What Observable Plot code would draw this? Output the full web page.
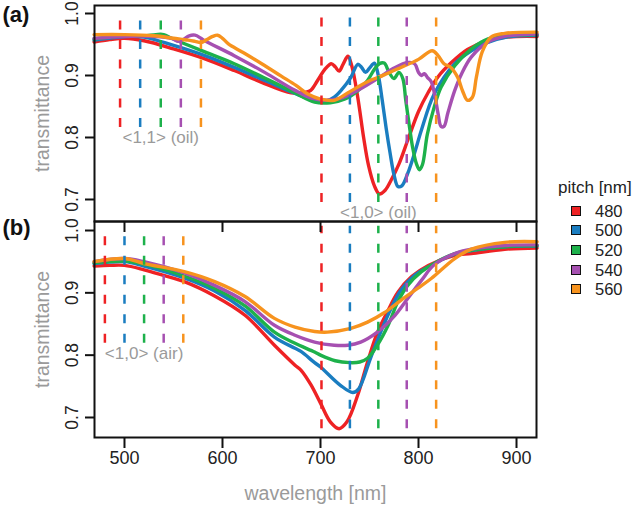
<!DOCTYPE html>
<html><head><meta charset="utf-8">
<script src="https://cdn.jsdelivr.net/npm/d3@7"></script>
<script src="https://cdn.jsdelivr.net/npm/@observablehq/plot@0.6"></script>
<style>
body{margin:0;background:#fff;}
#wrap{position:relative;width:632px;height:505px;font-family:"Liberation Sans",Arial,Helvetica,sans-serif;overflow:hidden;}
#wrap svg{position:absolute;left:0;}
.lg{position:absolute;color:#222;font-size:16.5px;line-height:1;}
.sw{position:absolute;width:8px;height:8px;border:1.5px solid #111;}
</style></head><body><div id="wrap"></div>
<script>
// ---- data ----
const pitches = [480, 500, 520, 540, 560];
const colors = ["#ee2224", "#1a7dc0", "#1db14b", "#a650b1", "#f7931e"];
const xTicks = [500, 600, 700, 800, 900];
const yTicks = [0.7, 0.8, 0.9, 1.0];
const modeOil11 = [495.5, 516, 537, 557.5, 578];
const modeOil10 = [701, 730, 759, 788, 818];
const modeAir10 = [480, 500, 520, 540, 560];
const labelOil11 = "<1,1> (oil)";
const labelOil10 = "<1,0> (oil)";
const labelAir10 = "<1,0> (air)";

// panel (a): in oil, [wavelength nm, transmittance]
const a480 = [[469,0.954],[485,0.958],[500,0.960],[520,0.956],[550,0.943],[580,0.928],[612,0.908],[643,0.887],[670,0.872],[685,0.873],[690,0.876],[697,0.892],[705,0.911],[711,0.919],[715,0.914],[719,0.907],[723,0.918],[728,0.931],[732,0.915],[738,0.865],[744,0.800],[749,0.755],[755,0.722],[760,0.709],[766,0.715],[772,0.731],[780,0.757],[790,0.800],[800,0.842],[810,0.873],[820,0.898],[833,0.920],[850,0.942],[870,0.956],[890,0.962],[921,0.963]];
const a500 = [[469,0.957],[500,0.963],[520,0.962],[551,0.948],[582,0.932],[612,0.913],[643,0.892],[674,0.871],[694,0.860],[706,0.859],[714,0.865],[721,0.876],[731,0.897],[738,0.918],[742,0.913],[746,0.905],[750,0.912],[755,0.920],[759,0.900],[763,0.860],[767,0.815],[771,0.775],[775,0.740],[779,0.721],[783,0.722],[789,0.742],[796,0.775],[803,0.812],[816,0.870],[837,0.919],[854,0.940],[870,0.953],[890,0.962],[921,0.965]];
const a520 = [[469,0.959],[500,0.964],[520,0.964],[532,0.966],[540,0.966],[548,0.960],[560,0.952],[582,0.938],[612,0.919],[643,0.896],[674,0.872],[694,0.857],[710,0.856],[725,0.862],[740,0.878],[748,0.892],[755,0.910],[760,0.919],[765,0.920],[770,0.905],[775,0.895],[780,0.905],[784,0.895],[787,0.860],[791,0.815],[794,0.784],[798,0.757],[801,0.748],[804,0.756],[809,0.805],[816,0.849],[823,0.881],[837,0.916],[854,0.943],[871,0.959],[890,0.964],[921,0.966]];
const a540 = [[469,0.960],[500,0.963],[530,0.963],[548,0.960],[555,0.955],[560,0.958],[566,0.964],[572,0.965],[578,0.960],[582,0.956],[612,0.932],[643,0.905],[674,0.876],[690,0.864],[705,0.860],[720,0.863],[740,0.878],[760,0.897],[775,0.912],[789,0.921],[796,0.919],[800,0.905],[803,0.900],[806,0.903],[809,0.897],[813,0.890],[817,0.865],[820,0.838],[823,0.818],[826,0.818],[830,0.840],[837,0.876],[844,0.903],[854,0.930],[871,0.954],[888,0.963],[921,0.967]];
const a560 = [[469,0.966],[500,0.966],[530,0.964],[550,0.960],[565,0.957],[572,0.955],[578,0.953],[584,0.958],[590,0.963],[595,0.965],[600,0.960],[606,0.951],[620,0.938],[640,0.919],[660,0.899],[675,0.884],[687,0.870],[700,0.862],[714,0.860],[730,0.874],[748,0.890],[765,0.901],[782,0.913],[800,0.926],[814,0.940],[820,0.932],[826,0.919],[833,0.913],[840,0.897],[845,0.875],[850,0.860],[855,0.865],[859,0.897],[865,0.938],[874,0.962],[888,0.968],[921,0.970]];

// panel (b): in air
const b480 = [[469,0.943],[485,0.944],[500,0.944],[520,0.937],[540,0.928],[561,0.918],[592,0.895],[623,0.864],[653,0.816],[674,0.784],[680,0.776],[690,0.753],[700,0.723],[710,0.693],[719,0.682],[727,0.693],[738,0.736],[748,0.789],[758,0.836],[769,0.872],[779,0.901],[793,0.926],[810,0.944],[837,0.960],[854,0.963],[888,0.970],[921,0.972]];
const b500 = [[469,0.947],[500,0.950],[520,0.943],[561,0.924],[592,0.903],[623,0.872],[653,0.829],[674,0.811],[680,0.806],[694,0.788],[700,0.781],[720,0.752],[733,0.740],[739,0.746],[751,0.795],[763,0.843],[772,0.875],[782,0.904],[796,0.928],[813,0.944],[837,0.962],[888,0.974],[921,0.975]];
const b520 = [[469,0.948],[500,0.951],[520,0.946],[561,0.927],[592,0.907],[623,0.879],[653,0.837],[674,0.819],[694,0.805],[700,0.800],[715,0.791],[730,0.788],[740,0.789],[748,0.795],[758,0.816],[769,0.848],[779,0.886],[789,0.912],[803,0.934],[816,0.947],[837,0.963],[888,0.974],[921,0.976]];
const b540 = [[469,0.950],[500,0.955],[520,0.950],[561,0.932],[592,0.912],[623,0.886],[653,0.848],[674,0.832],[694,0.821],[714,0.816],[728,0.816],[741,0.821],[758,0.837],[776,0.864],[789,0.891],[803,0.920],[816,0.945],[837,0.963],[854,0.970],[888,0.976],[921,0.977]];
const b560 = [[469,0.950],[500,0.955],[520,0.947],[561,0.934],[592,0.918],[623,0.894],[653,0.859],[674,0.845],[694,0.838],[707,0.837],[731,0.843],[748,0.853],[765,0.868],[782,0.888],[799,0.907],[813,0.923],[837,0.955],[854,0.970],[888,0.981],[921,0.982]];

// ---- build tables ----
const toRows = (series) => series.flatMap((s, i) => s.map(([wl, t]) => ({pitch: pitches[i], wl, t})));
const rowsA = toRows([a480, a500, a520, a540, a560]);
const rowsB = toRows([b480, b500, b520, b540, b560]);
const modes = (arr) => arr.map((wl, i) => ({pitch: pitches[i], wl}));

const font = '"Liberation Sans", Arial, Helvetica, sans-serif';
const colorScale = {domain: pitches, range: colors};
const xDomain = [469.4, 920.4];
const dash = "9,10.5";

function common(yDomain) {
  return {
    width: 632,
    marginLeft: 94,
    marginRight: 96,
    x: {domain: xDomain},
    y: {domain: yDomain},
    color: colorScale,
    style: {fontFamily: font, background: "transparent", overflow: "visible"}
  };
}

const lineOpts = {x: "wl", y: "t", z: "pitch", stroke: "pitch", strokeWidth: 3.4, curve: "catmull-rom", strokeLinejoin: "round"};
const yTickLabels = (dx) => Plot.text(yTicks, {y: d => d, text: d => d.toFixed(1), frameAnchor: "left", textAnchor: "middle", lineAnchor: "middle", rotate: -90, dx, fontSize: 17.5, fill: "#222"});
const yTitle = Plot.text(["transmittance"], {frameAnchor: "left", textAnchor: "middle", lineAnchor: "middle", rotate: -90, dx: -52, fontSize: 19.5, fill: "#9a9a9a"});

// panel (a)
const plotA = Plot.plot({
  ...common([0.6645, 1.0129]),
  height: 232,
  marginTop: 5,
  marginBottom: 11,
  marks: [
    Plot.line(rowsA, lineOpts),
    Plot.ruleX(modes(modeOil11), {x: "wl", y1: 0.816, y2: 0.989, stroke: "pitch", strokeWidth: 2.5, strokeDasharray: dash}),
    Plot.ruleX(modes(modeOil10), {x: "wl", y1: 0.695, y2: 0.998, stroke: "pitch", strokeWidth: 2.5, strokeDasharray: dash}),
    Plot.text([labelOil11], {x: modeOil11[2], y: 0.800, fontSize: 17, fill: "#9a9a9a"}),
    Plot.text([labelOil10], {x: modeOil10[2], y: 0.679, fontSize: 17, fill: "#9a9a9a"}),
    Plot.frame({stroke: "#111", strokeWidth: 2}),
    Plot.axisY({ticks: yTicks, tickSize: 9, tickFormat: () => "", strokeWidth: 2, stroke: "#111", label: null}),
    Plot.axisX({ticks: xTicks, tickSize: 11, tickFormat: () => "", strokeWidth: 2, stroke: "#111", label: null}),
    yTickLabels(-22),
    yTitle,
    Plot.text(["(a)"], {frameAnchor: "top-left", textAnchor: "start", lineAnchor: "middle", dx: -92, dy: 9, fontSize: 22, fontWeight: "bold", fill: "#111"})
  ]
});

// panel (b)
const plotB = Plot.plot({
  ...common([0.6679, 1.01445]),
  height: 294,
  marginTop: 10,
  marginBottom: 68,
  marks: [
    Plot.line(rowsB, lineOpts),
    Plot.ruleX(modes(modeAir10), {x: "wl", y1: 0.819, y2: 0.9925, stroke: "pitch", strokeWidth: 2.5, strokeDasharray: dash}),
    Plot.ruleX(modes(modeOil10), {x: "wl", y1: 0.682, y2: 1.007, stroke: "pitch", strokeWidth: 2.5, strokeDasharray: dash}),
    Plot.text([labelAir10], {x: modeAir10[2], y: 0.8026, fontSize: 17, fill: "#9a9a9a"}),
    Plot.frame({stroke: "#111", strokeWidth: 2}),
    Plot.axisY({ticks: yTicks, tickSize: 9, tickFormat: () => "", strokeWidth: 2, stroke: "#111", label: null}),
    Plot.axisX({ticks: xTicks, tickSize: 11, tickPadding: 3, fontSize: 18, strokeWidth: 2, stroke: "#111", fill: "#222", label: null}),
    yTickLabels(-22),
    yTitle,
    Plot.text(["wavelength [nm]"], {frameAnchor: "bottom", lineAnchor: "middle", dy: 56, fontSize: 19.5, fill: "#9a9a9a"}),
    Plot.text(["(b)"], {frameAnchor: "top-left", textAnchor: "start", lineAnchor: "middle", dx: -92, dy: 6, fontSize: 22, fontWeight: "bold", fill: "#111"})
  ]
});

const wrap = document.getElementById("wrap");
plotB.style.top = "211px";
plotA.style.top = "0px";
wrap.appendChild(plotB);
wrap.appendChild(plotA);

// legend
const title = document.createElement("div");
title.className = "lg";
title.textContent = "pitch [nm]";
title.style.left = "558px";
title.style.top = "179px";
title.style.fontSize = "17px";
wrap.appendChild(title);
pitches.forEach((p, i) => {
  const cy = 211 + i * 19.7;
  const sw = document.createElement("div");
  sw.className = "sw";
  sw.style.left = "571px";
  sw.style.top = (cy - 5.5) + "px";
  sw.style.background = colors[i];
  wrap.appendChild(sw);
  const t = document.createElement("div");
  t.className = "lg";
  t.textContent = String(p);
  t.style.left = "595px";
  t.style.top = (cy - 8.5) + "px";
  wrap.appendChild(t);
});
</script></body></html>
